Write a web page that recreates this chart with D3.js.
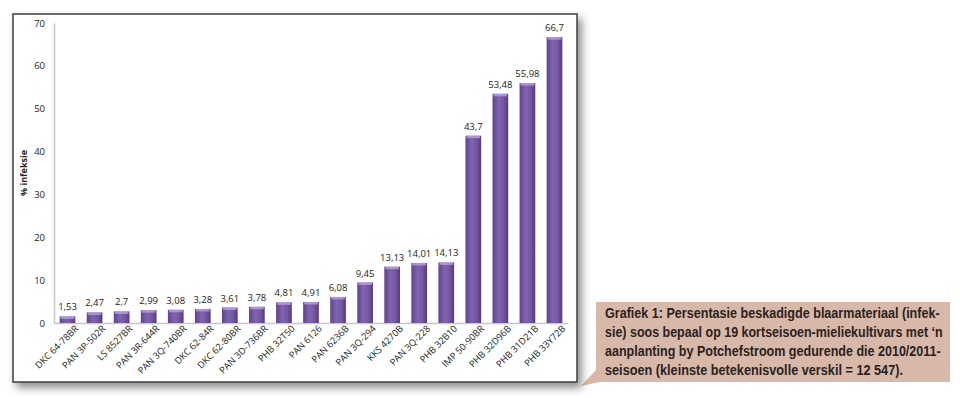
<!DOCTYPE html>
<html>
<head>
<meta charset="utf-8">
<script src="https://cdn.jsdelivr.net/npm/d3@7"></script>
<style>
  body { margin: 0; background: #fff; }
  svg { display: block; }
</style>
</head>
<body>
<div id="chart"></div>
<script>
// cultivars (x categories) and % infection
const cultivars = [
  'DKC 64-78BR', 'PAN 3P-502R', 'LS 8527BR', 'PAN 3R-644R', 'PAN 3Q-740BR',
  'DKC 62-84R', 'DKC 62-80BR', 'PAN 3D-736BR', 'PHB 32T50', 'PAN 6126',
  'PAN 6236B', 'PAN 3Q-294', 'KKS 4270B', 'PAN 3Q-228', 'PHB 32B10',
  'IMP 50-90BR', 'PHB 32D96B', 'PHB 31D21B', 'PHB 33Y72B'
];
const infection = [
  1.53, 2.47, 2.7, 2.99, 3.08, 3.28, 3.61, 3.78, 4.81, 4.91,
  6.08, 9.45, 13.13, 14.01, 14.13, 43.7, 53.48, 55.98, 66.7
];
const yTicks = [0, 10, 20, 30, 40, 50, 60, 70];
const captionLines = [
  'Grafiek 1: Persentasie beskadigde blaarmateriaal (infek-',
  'sie) soos bepaal op 19 kortseisoen-mieliekultivars met \u2018n',
  'aanplanting by Potchefstroom gedurende die 2010/2011-',
  'seisoen (kleinste betekenisvolle verskil = 12 547).'
];
// condensed caption: width each line takes in the box
const captionWidths = [335, 338, 336, 298];

const width = 960, height = 398;
const plot = { left: 54, right: 568, top: 23, bottom: 323 };
const fmt = v => String(v).replace('.', ',');
const labelFont = '"Open Sans", sans-serif';

const svg = d3.select('#chart').append('svg')
  .attr('width', width)
  .attr('height', height);

const defs = svg.append('defs');
const shadow = defs.append('filter').attr('id', 'shadow')
  .attr('x', '-5%').attr('y', '-5%').attr('width', '115%').attr('height', '120%');
shadow.append('feDropShadow')
  .attr('dx', 4).attr('dy', 5).attr('stdDeviation', 4)
  .attr('flood-color', '#000').attr('flood-opacity', 0.45);

const barGrad = defs.append('linearGradient').attr('id', 'barGrad')
  .attr('x1', '0%').attr('x2', '100%').attr('y1', '0%').attr('y2', '0%');
barGrad.append('stop').attr('offset', '0%').attr('stop-color', '#5f4390');
barGrad.append('stop').attr('offset', '40%').attr('stop-color', '#8064ae');
barGrad.append('stop').attr('offset', '70%').attr('stop-color', '#7558a3');
barGrad.append('stop').attr('offset', '100%').attr('stop-color', '#56397f');

// tan folded caption backing
svg.append('polygon')
  .attr('points', '596,302 950,302 950,382 600,382 581,386 596,370')
  .attr('fill', '#d8b9a9');

// chart frame
svg.append('rect')
  .attr('x', 13).attr('y', 14)
  .attr('width', 564).attr('height', 368)
  .attr('fill', '#fff')
  .attr('stroke', '#3c3c3c')
  .attr('stroke-width', 1.5)
  .attr('filter', 'url(#shadow)');

const x = d3.scaleBand()
  .domain(cultivars)
  .range([plot.left, plot.right])
  .paddingInner(0.42)
  .paddingOuter(0.21);

const y = d3.scaleLinear()
  .domain([0, 70])
  .range([plot.bottom, plot.top]);

// y axis
const yAxis = svg.append('g')
  .attr('transform', `translate(${plot.left},0)`)
  .call(d3.axisLeft(y).tickValues(yTicks).tickSize(0).tickPadding(9));
yAxis.select('.domain').attr('stroke', '#c8c8c8').attr('stroke-width', 1.5);
yAxis.selectAll('text')
  .style('font-family', labelFont)
  .style('font-size', '9.5px')
  .attr('fill', '#222');

// x axis
const xAxis = svg.append('g')
  .attr('transform', `translate(0,${plot.bottom})`)
  .call(d3.axisBottom(x).tickSize(0).tickPadding(6));
xAxis.select('.domain').attr('stroke', '#c8c8c8').attr('stroke-width', 1.5);
xAxis.selectAll('text')
  .style('font-family', labelFont)
  .style('font-size', '9.3px')
  .attr('fill', '#222')
  .attr('text-anchor', 'end')
  .attr('dx', '0.4em')
  .attr('dy', '0.7em')
  .attr('transform', 'rotate(-45)');

// bars
const bars = svg.append('g').selectAll('g')
  .data(cultivars)
  .enter()
  .append('g');

bars.append('rect')
  .attr('x', d => x(d))
  .attr('y', (d, i) => y(infection[i]))
  .attr('width', x.bandwidth())
  .attr('height', (d, i) => plot.bottom - y(infection[i]))
  .attr('fill', 'url(#barGrad)');

bars.append('rect')
  .attr('x', d => x(d) + 1)
  .attr('y', (d, i) => y(infection[i]))
  .attr('width', x.bandwidth() - 2)
  .attr('height', 2.5)
  .attr('fill', '#b9a4d6')
  .attr('opacity', 0.8);

bars.append('text')
  .attr('x', d => x(d) + x.bandwidth() / 2)
  .attr('y', (d, i) => y(infection[i]) - 6)
  .attr('text-anchor', 'middle')
  .style('font-family', labelFont)
  .style('font-size', '9.5px')
  .attr('fill', '#222')
  .text((d, i) => fmt(infection[i]));

// y axis title
svg.append('text')
  .attr('transform', `translate(27,${(plot.top + plot.bottom) / 2}) rotate(-90)`)
  .attr('text-anchor', 'middle')
  .style('font-family', labelFont)
  .style('font-size', '9px')
  .style('font-weight', 'bold')
  .attr('fill', '#222')
  .text('% infeksie');

// caption: each line squeezed horizontally to mimic a condensed face
svg.append('g').selectAll('text')
  .data(captionLines)
  .enter()
  .append('text')
  .attr('x', 0)
  .attr('y', 0)
  .style('font-family', '"Liberation Sans", sans-serif')
  .style('font-size', '14px')
  .style('font-weight', 'bold')
  .attr('fill', '#2a2220')
  .text(d => d)
  .each(function (d, i) {
    const sx = captionWidths[i] / this.getComputedTextLength();
    d3.select(this).attr('transform', `translate(605,${318 + i * 19}) scale(${sx},1)`);
  });
</script>
</body>
</html>
